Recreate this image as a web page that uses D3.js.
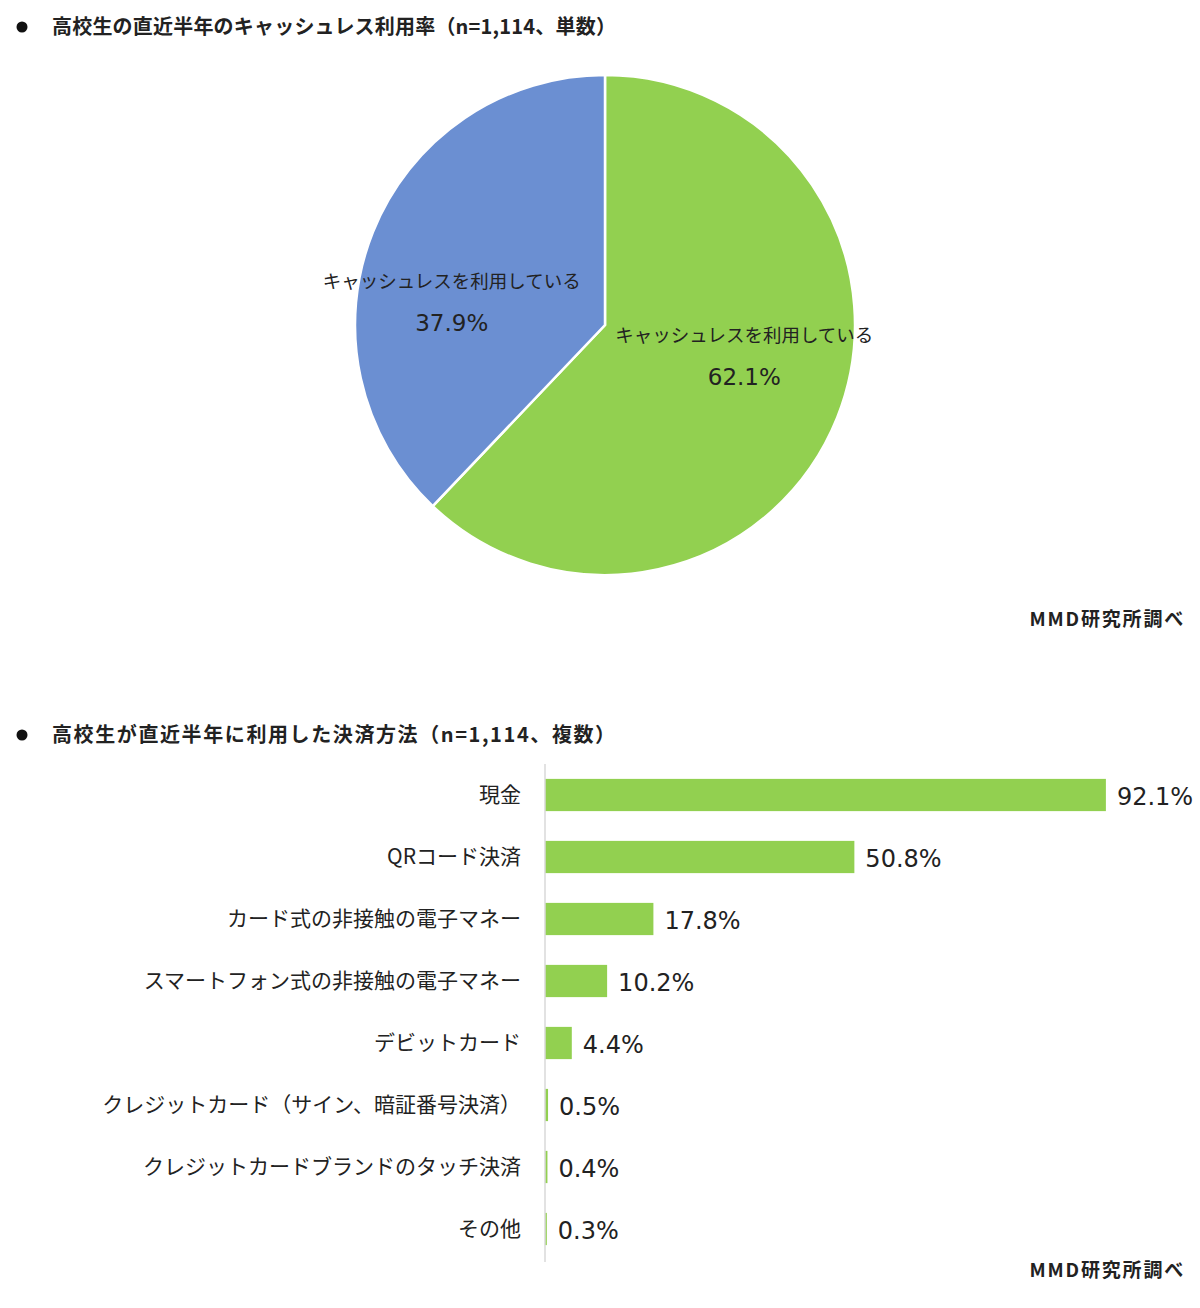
<!DOCTYPE html>
<html>
<head>
<meta charset="utf-8">
<script src="https://cdn.jsdelivr.net/npm/d3@7"></script>
<style>
    body { margin: 0; background: #fff; }
    svg { display: block; }
</style>
</head>
<body>
<div id="chart"></div>
<script>
// pie: cashless usage rate
const pieTitle = '高校生の直近半年のキャッシュレス利用率（n=1,114、単数）';
const pieLabels = ['キャッシュレスを利用している', 'キャッシュレスを利用している'];
const pieValues = [62.1, 37.9];
const pieColors = ['#92D050', '#6B8FD2'];

// bars: payment methods used
const barTitle = '高校生が直近半年に利用した決済方法（n=1,114、複数）';
const barCategories = [
    '現金',
    'QRコード決済',
    'カード式の非接触の電子マネー',
    'スマートフォン式の非接触の電子マネー',
    'デビットカード',
    'クレジットカード（サイン、暗証番号決済）',
    'クレジットカードブランドのタッチ決済',
    'その他',
];
const barValues = [92.1, 50.8, 17.8, 10.2, 4.4, 0.5, 0.4, 0.3];

const source = 'MMD研究所調べ';

const W = 1200;
const H = 1308;
const jpFont = '"Noto Sans CJK JP", "Noto Sans", sans-serif';
const numFont = '"DejaVu Sans", Verdana, sans-serif';

const svg = d3.select('#chart')
    .append('svg')
    .attr('width', W)
    .attr('height', H);

function heading(y, text, spacing) {
    svg.append('circle')
        .attr('cx', 22)
        .attr('cy', y - 7)
        .attr('r', 5.5)
        .attr('fill', '#111');
    svg.append('text')
        .attr('x', 52)
        .attr('y', y)
        .attr('font-family', jpFont)
        .attr('font-weight', 'bold')
        .attr('font-size', 20)
        .attr('letter-spacing', spacing)
        .attr('fill', '#222')
        .text(text);
}

function credit(y) {
    svg.append('text')
        .attr('x', 1185)
        .attr('y', y)
        .attr('text-anchor', 'end')
        .attr('font-family', jpFont)
        .attr('font-weight', 'bold')
        .attr('font-size', 19)
        .attr('letter-spacing', 1.8)
        .attr('fill', '#222')
        .text(source);
}

// ---- pie ----
heading(34, pieTitle, 0.2);

const radius = 250;
const pieG = svg.append('g')
    .attr('transform', 'translate(605, 325)');

const pie = d3.pie().sort(null).value((d) => d);
const arcs = pie(pieValues);
const arc = d3.arc().innerRadius(0).outerRadius(radius);
const labelArc = d3.arc().innerRadius(150).outerRadius(150);

pieG.selectAll('path')
    .data(arcs)
    .enter()
    .append('path')
    .attr('d', arc)
    .attr('fill', (d, i) => pieColors[i])
    .attr('stroke', '#fff')
    .attr('stroke-width', 2.5);

// excel nudges the labels off the centroid a bit
const labelShift = [[0, -25], [-14, 33]];

const pieLabel = pieG.selectAll('.pie-label')
    .data(arcs)
    .enter()
    .append('g')
    .attr('class', 'pie-label')
    .attr('transform', (d, i) => {
        const c = labelArc.centroid(d);
        return 'translate(' + (c[0] + labelShift[i][0]) + ',' + (c[1] + labelShift[i][1]) + ')';
    });

pieLabel.append('text')
    .attr('y', -14)
    .attr('text-anchor', 'middle')
    .attr('font-family', jpFont)
    .attr('font-size', 18.5)
    .attr('fill', '#222')
    .text((d, i) => pieLabels[i]);

pieLabel.append('text')
    .attr('y', 29)
    .attr('text-anchor', 'middle')
    .attr('font-family', numFont)
    .attr('font-size', 23)
    .attr('fill', '#222')
    .text((d) => d.data.toFixed(1) + '%');

credit(626);

// ---- bars ----
heading(742, barTitle, 1.6);

const x = d3.scaleLinear()
    .domain([0, 100])
    .range([545, 1154]);

const y = d3.scaleBand()
    .domain(barCategories)
    .range([764, 1260])
    .paddingInner(0.48)
    .paddingOuter(0.24);

svg.append('g')
    .attr('class', 'bars')
    .selectAll('rect')
    .data(barValues)
    .enter()
    .append('rect')
    .attr('x', x(0))
    .attr('y', (d, i) => y(barCategories[i]))
    .attr('width', (d) => Math.max(1.5, x(d) - x(0)))
    .attr('height', y.bandwidth())
    .attr('fill', '#92D050');

const yAxis = d3.axisLeft(y).tickSize(0).tickPadding(24);
const yG = svg.append('g')
    .attr('transform', 'translate(' + x(0) + ',0)')
    .call(yAxis);
yG.select('.domain')
    .attr('stroke', '#d9d9d9')
    .attr('stroke-width', 1.5)
    .attr('d', 'M0,764V1262');
yG.selectAll('.tick text')
    .attr('font-family', jpFont)
    .attr('font-size', 21)
    .attr('fill', '#222');

svg.append('g')
    .attr('class', 'values')
    .selectAll('text')
    .data(barValues)
    .enter()
    .append('text')
    .attr('x', (d) => x(d) + 11)
    .attr('y', (d, i) => y(barCategories[i]) + y.bandwidth() / 2)
    .attr('dy', '0.4em')
    .attr('font-family', numFont)
    .attr('font-size', 24)
    .attr('fill', '#222')
    .text((d) => d.toFixed(1) + '%');

credit(1277);
</script>
</body>
</html>
